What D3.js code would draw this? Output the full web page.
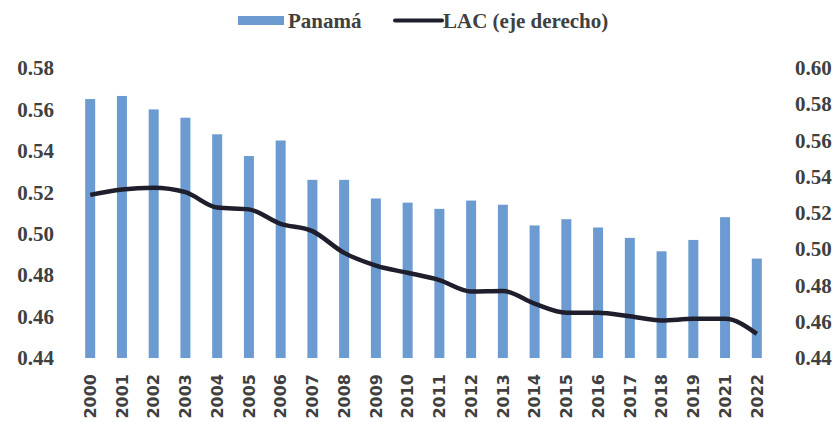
<!DOCTYPE html>
<html>
<head>
<meta charset="utf-8">
<script src="https://cdn.jsdelivr.net/npm/d3@7"></script>
<style>
  body { margin: 0; background: #fff; }
  svg { display: block; }
</style>
</head>
<body>
<svg id="chart"></svg>
<script>
// data
const years = ["2000", "2001", "2002", "2003", "2004", "2005", "2006", "2007", "2008", "2009", "2010",
  "2011", "2012", "2013", "2014", "2015", "2016", "2017", "2018", "2019", "2021", "2022"];
const panama = [0.565, 0.5665, 0.560, 0.556, 0.548, 0.5375, 0.545, 0.526, 0.526, 0.517, 0.515,
  0.512, 0.516, 0.514, 0.504, 0.507, 0.503, 0.498, 0.4915, 0.497, 0.508, 0.488];
const lac = [0.530, 0.533, 0.534, 0.5315, 0.523, 0.522, 0.514, 0.510, 0.498, 0.491, 0.487,
  0.483, 0.4767, 0.477, 0.470, 0.465, 0.465, 0.463, 0.4607, 0.4616, 0.4616, 0.4533];
const leftTicks = [0.44, 0.46, 0.48, 0.50, 0.52, 0.54, 0.56, 0.58];
const rightTicks = [0.44, 0.46, 0.48, 0.50, 0.52, 0.54, 0.56, 0.58, 0.60];
const legendLabels = ["Panamá", "LAC (eje derecho)"];

const width = 835;
const height = 422;
const serif = "'Liberation Serif', serif";
const sans = "'DejaVu Sans', sans-serif";
const textColor = "#404040";
const barColor = "#6b9bd0";
const lineColor = "#1e1e2c";

const svg = d3.select("#chart")
  .attr("width", width)
  .attr("height", height);

// scales
const x = d3.scaleBand()
  .domain(years)
  .range([74.4, 772.6])
  .paddingInner(0.685)
  .paddingOuter(0.34);

const yLeft = d3.scaleLinear().domain([0.44, 0.58]).range([358, 68]);
const yRight = d3.scaleLinear().domain([0.44, 0.60]).range([358, 68]);

// bars
svg.selectAll(".bar")
  .data(panama)
  .enter().append("rect")
  .attr("class", "bar")
  .attr("x", (d, i) => x(years[i]))
  .attr("y", d => yLeft(d))
  .attr("width", x.bandwidth())
  .attr("height", d => yLeft(0.44) - yLeft(d))
  .attr("fill", barColor);

// LAC line on right axis
const line = d3.line()
  .x((d, i) => x(years[i]) + x.bandwidth() / 2)
  .y(d => yRight(d))
  .curve(d3.curveMonotoneX);

svg.append("path")
  .datum(lac)
  .attr("d", line)
  .attr("fill", "none")
  .attr("stroke", lineColor)
  .attr("stroke-width", 4.5)
  .attr("stroke-linejoin", "round");

// left axis
const leftAxis = svg.append("g")
  .attr("transform", "translate(54,0)")
  .call(d3.axisLeft(yLeft).tickValues(leftTicks).tickFormat(d3.format(".2f")).tickSize(0).tickPadding(0));

// right axis
const rightAxis = svg.append("g")
  .attr("transform", "translate(795,0)")
  .call(d3.axisRight(yRight).tickValues(rightTicks).tickFormat(d3.format(".2f")).tickSize(0).tickPadding(0));

[leftAxis, rightAxis].forEach(g => {
  g.select(".domain").remove();
  g.selectAll("text")
    .attr("fill", textColor)
    .style("font-family", serif)
    .style("font-weight", "bold")
    .style("font-size", "21px");
});

// year labels, rotated
const xAxis = svg.append("g")
  .attr("transform", "translate(0,374)")
  .call(d3.axisBottom(x).tickSize(0).tickPadding(0));
xAxis.select(".domain").remove();
xAxis.selectAll("text")
  .attr("transform", "rotate(-90)")
  .attr("text-anchor", "end")
  .attr("x", 0)
  .attr("y", 0)
  .attr("dy", "0.36em")
  .attr("fill", textColor)
  .style("font-family", sans)
  .style("font-weight", "bold")
  .style("font-size", "16px");

// legend
const legend = svg.append("g");
legend.append("rect")
  .attr("x", 238).attr("y", 16)
  .attr("width", 46).attr("height", 9)
  .attr("fill", barColor);
legend.append("text")
  .attr("x", 288).attr("y", 28)
  .text(legendLabels[0]);
legend.append("line")
  .attr("x1", 395).attr("x2", 442)
  .attr("y1", 20.5).attr("y2", 20.5)
  .attr("stroke", lineColor)
  .attr("stroke-width", 4)
  .attr("stroke-linecap", "round");
legend.append("text")
  .attr("x", 443).attr("y", 28)
  .text(legendLabels[1]);
legend.selectAll("text")
  .attr("fill", textColor)
  .style("font-family", serif)
  .style("font-weight", "bold")
  .style("font-size", "21px");
</script>
</body>
</html>
